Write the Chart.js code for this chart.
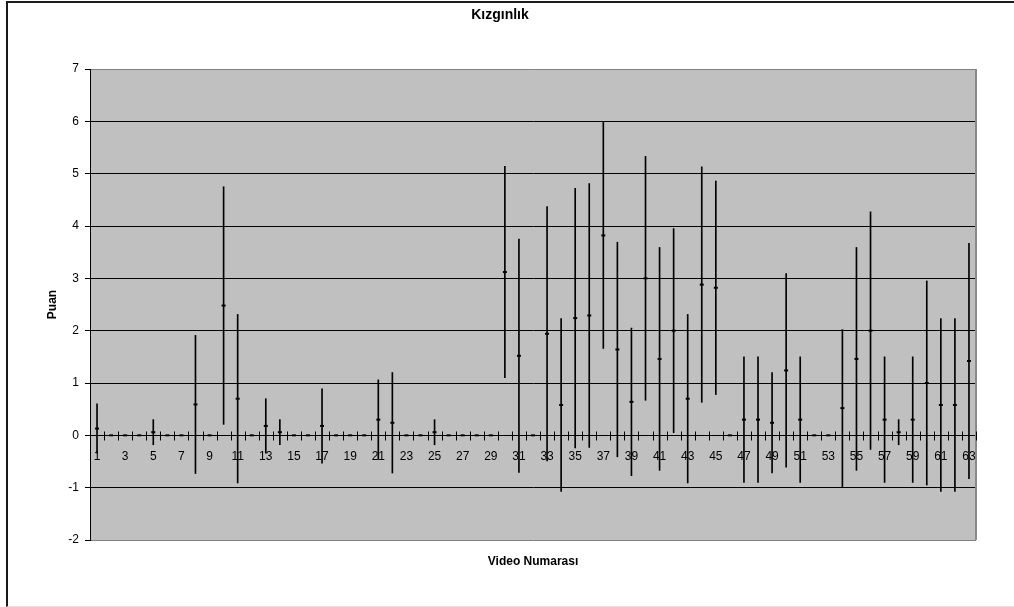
<!DOCTYPE html>
<html>
<head>
<meta charset="utf-8">
<script src="https://cdn.jsdelivr.net/npm/chart.js@4.4.0/dist/chart.umd.min.js"></script>
<style>
    html, body { margin: 0; padding: 0; background: #fff; overflow: hidden; }
    #frame {
        position: absolute; left: 6px; top: 1px; width: 1100px; height: 603px;
        border-left: 2px solid #1a1a1a; border-top: 2px solid #1a1a1a; border-bottom: 1px solid #e4e4e4;
    }
    #wrap { position: absolute; left: 0; top: 0; width: 1000px; height: 607px; }
</style>
</head>
<body>
<div id="frame"></div>
<div id="wrap"><canvas id="chart"></canvas></div>
<script>
// ============================================
// DATA
// ============================================

const categories = Array.from({ length: 63 }, (_, i) => String(i + 1));

// mean score per video
const means = [
    0.13, 0, 0, 0, 0.06, 0, 0, 0.59, 0, 2.48,
    0.70, 0, 0.18, 0.06, 0, 0, 0.18, 0, 0, 0,
    0.30, 0.24, 0, 0, 0.06, 0, 0, 0, 0, 3.12,
    1.52, 0, 1.94, 0.58, 2.24, 2.29, 3.82, 1.64, 0.64, 3.00,
    1.46, 2.00, 0.70, 2.88, 2.82, 0, 0.30, 0.30, 0.24, 1.24,
    0.30, 0, 0, 0.52, 1.46, 2.00, 0.30, 0.06, 0.30, 1.00,
    0.58, 0.58, 1.42
];

// standard deviation per video (error bar half length)
const sds = [
    0.47, 0, 0, 0, 0.24, 0, 0, 1.32, 0, 2.27,
    1.61, 0, 0.52, 0.24, 0, 0, 0.71, 0, 0, 0,
    0.76, 0.96, 0, 0, 0.24, 0, 0, 0, 0, 2.02,
    2.23, 0, 2.43, 1.65, 2.48, 2.52, 2.16, 2.05, 1.41, 2.33,
    2.13, 1.95, 1.61, 2.25, 2.04, 0, 1.20, 1.20, 0.96, 1.85,
    1.20, 0, 0, 1.50, 2.13, 2.27, 1.20, 0.24, 1.20, 1.95,
    1.65, 1.65, 2.25
];

const yMin = -2;
const yMax = 7;

// ============================================
// PLUGINS
// ============================================

const plotArea = {
    id: 'plotArea',
    beforeDraw(chart) {
        const { ctx, chartArea: a } = chart;
        ctx.save();
        ctx.fillStyle = '#c0c0c0';
        ctx.fillRect(a.left, a.top, a.right - a.left, a.bottom - a.top);
        ctx.restore();
    },
    beforeDatasetsDraw(chart) {
        const { ctx, chartArea: a, scales } = chart;
        ctx.save();
        // right edge of plot area
        ctx.strokeStyle = '#8a8a8a';
        ctx.lineWidth = 2;
        ctx.beginPath();
        ctx.moveTo(a.right, a.top);
        ctx.lineTo(a.right, a.bottom);
        ctx.stroke();
        // cross tick marks on the zero axis, between categories
        const y0 = Math.round(scales.y.getPixelForValue(0)) + 0.5;
        ctx.strokeStyle = '#000';
        ctx.lineWidth = 1;
        ctx.beginPath();
        for (let i = 0; i <= categories.length; i++) {
            const px = Math.round(scales.x.getPixelForValue(i - 0.5)) + 0.5;
            ctx.moveTo(px, y0 - 4);
            ctx.lineTo(px, y0 + 5);
        }
        ctx.stroke();
        ctx.restore();
    }
};

// ============================================
// CHART
// ============================================

Chart.defaults.font.family = '"Liberation Sans", Arial, sans-serif';
Chart.defaults.color = '#000';

new Chart(document.getElementById('chart').getContext('2d'), {
    type: 'bar',
    data: {
        labels: categories,
        datasets: [
            {
                type: 'bar',
                data: means.map((m, i) => [m - sds[i], m + sds[i]]),
                backgroundColor: '#000',
                borderWidth: 0,
                barThickness: 1,
                order: 2
            },
            {
                type: 'line',
                data: means,
                showLine: false,
                pointStyle: 'line',
                pointRadius: 2,
                pointBorderWidth: 2,
                pointBorderColor: '#000',
                pointBackgroundColor: '#000',
                order: 1
            }
        ]
    },
    options: {
        responsive: true,
        maintainAspectRatio: false,
        animation: false,
        layout: { padding: 0 },
        plugins: {
            legend: { display: false },
            tooltip: { enabled: false },
            title: {
                display: true,
                text: 'Kızgınlık',
                font: { size: 14, weight: 'bold' },
                color: '#000',
                padding: { top: 7, bottom: 45.2 }
            }
        },
        scales: {
            x: {
                position: 'bottom',
                grid: { display: false },
                border: { display: false },
                ticks: { display: false },
                title: {
                    display: true,
                    text: 'Video Numarası',
                    font: { size: 12, weight: 'bold' },
                    padding: { top: 0, bottom: 38 }
                },
                afterFit: (s) => { s.height = 67; }
            },
            x2: {
                type: 'category',
                labels: categories,
                offset: true,
                position: { y: 0 },
                grid: { display: false },
                border: { display: false },
                ticks: {
                    autoSkip: false,
                    maxRotation: 0,
                    padding: 6,
                    font: { size: 12 },
                    callback: (v, i) => (i % 2 === 0 ? categories[i] : '')
                }
            },
            y: {
                min: yMin,
                max: yMax,
                ticks: { stepSize: 1, padding: 6, font: { size: 12 } },
                grid: {
                    color: (c) => (c.tick && (c.tick.value === yMax || c.tick.value === yMin) ? '#808080' : '#000'),
                    tickColor: '#000',
                    tickLength: 5
                },
                border: { display: true, color: '#000', width: 1 },
                title: {
                    display: true,
                    text: 'Puan',
                    font: { size: 12, weight: 'bold' },
                    padding: { top: 45, bottom: 0 }
                },
                afterFit: (s) => { s.width = 90; }
            },
            y2: {
                type: 'linear',
                position: 'right',
                grid: { display: false },
                border: { display: false },
                ticks: { display: false },
                afterFit: (s) => { s.width = 24; }
            }
        }
    },
    plugins: [plotArea]
});
</script>
</body>
</html>
